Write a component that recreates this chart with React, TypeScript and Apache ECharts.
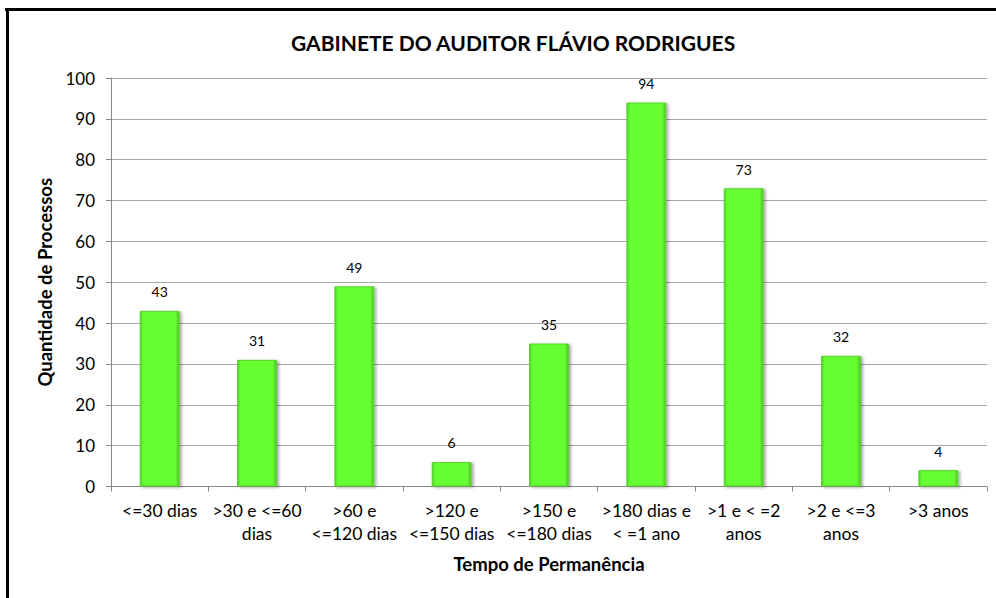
import React, { useEffect, useRef } from "react";
import * as echarts from "echarts";

const categories = [
  "<=30 dias",
  ">30 e <=60\ndias",
  ">60 e\n<=120 dias",
  ">120 e\n<=150 dias",
  ">150 e\n<=180 dias",
  ">180 dias e\n< =1 ano",
  ">1 e < =2\nanos",
  ">2 e <=3\nanos",
  ">3 anos",
];
const values = [43, 31, 49, 6, 35, 94, 73, 32, 4];
const titleText = "GABINETE DO AUDITOR FLÁVIO RODRIGUES";
const xName = "Tempo de Permanência";
const yName = "Quantidade de Processos";

const FONT = "Lato, 'Open Sans', sans-serif";

export default function App() {
  const ref = useRef<HTMLDivElement>(null);
  useEffect(() => {
    if (!ref.current) return;
    const chart = echarts.init(ref.current, undefined, { renderer: "svg" });
    chart.setOption({
      animation: false,
      backgroundColor: "#ffffff",
      textStyle: { fontFamily: FONT },
      title: {
        text: titleText,
        left: 286,
        top: 27,
        textStyle: { fontSize: 21, fontWeight: "bold", color: "#000", fontFamily: FONT },
      },
      graphic: [
        { type: "rect", shape: { x: 5, y: 8, width: 991, height: 3 }, style: { fill: "#000" } },
        { type: "rect", shape: { x: 6, y: 8, width: 3, height: 590 }, style: { fill: "#000" } },
      ],
      grid: { left: 111, right: 9, top: 78, bottom: 111.5, containLabel: false },
      xAxis: {
        type: "category",
        data: categories,
        name: xName,
        nameLocation: "middle",
        nameGap: 68,
        nameTextStyle: { fontSize: 18.5, fontWeight: "bold", color: "#000", fontFamily: FONT },
        axisLine: { show: true, lineStyle: { color: "#898989", width: 1 } },
        axisTick: { show: true, length: 5, alignWithLabel: false, lineStyle: { color: "#898989" } },
        axisLabel: { fontSize: 17.5, color: "#000", margin: 12, lineHeight: 23, interval: 0, fontFamily: FONT },
      },
      yAxis: {
        type: "value",
        min: 0,
        max: 100,
        interval: 10,
        name: yName,
        nameLocation: "middle",
        nameRotate: 90,
        nameGap: 56,
        nameTextStyle: { fontSize: 18.5, fontWeight: "bold", color: "#000", fontFamily: FONT },
        axisLine: { show: true, lineStyle: { color: "#898989", width: 1 } },
        axisTick: { show: true, length: 5, lineStyle: { color: "#898989" } },
        axisLabel: { fontSize: 17, color: "#000", margin: 16, fontFamily: FONT },
        splitLine: { show: true, lineStyle: { color: "#a6a6a6", width: 1 } },
      },
      series: [
        {
          type: "bar",
          data: values,
          barWidth: "41%",
          itemStyle: {
            color: new echarts.graphic.LinearGradient(0, 0, 1, 0, [
              { offset: 0, color: "#4fcf28" },
              { offset: 0.08, color: "#66ff33" },
              { offset: 0.9, color: "#66ff33" },
              { offset: 1, color: "#4cc526" },
            ]),
            borderColor: "#5ad22e",
            borderWidth: 1,
            shadowColor: "rgba(0,0,0,0.35)",
            shadowBlur: 3,
            shadowOffsetX: 2,
            shadowOffsetY: 1,
          },
          label: {
            show: true,
            position: "top",
            distance: 12,
            fontSize: 14,
            color: "#000",
            fontFamily: FONT,
          },
        },
      ],
    });
    return () => chart.dispose();
  }, []);
  return (
    <div
      ref={ref}
      style={{ position: "fixed", left: 0, top: 0, width: 996, height: 598 }}
    />
  );
}
